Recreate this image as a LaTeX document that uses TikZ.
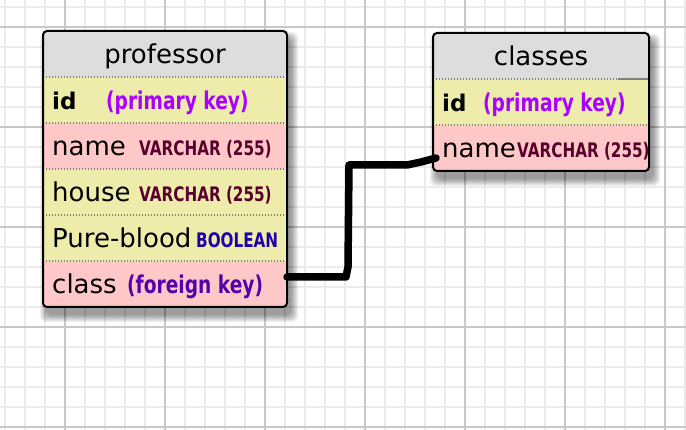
\documentclass[tikz,border=0pt]{standalone}
\usepackage{fontspec}
\setmainfont{DejaVu Sans}
\newfontfamily\typefont[FakeStretch=0.76]{DejaVu Sans Bold}
\usetikzlibrary{positioning,calc}
\definecolor{headgray}{RGB}{221,221,221}
\definecolor{rowyellow}{RGB}{238,236,170}
\definecolor{rowpink}{RGB}{255,200,200}
\definecolor{pkcolor}{RGB}{170,0,255}
\definecolor{fkcolor}{RGB}{85,0,170}
\definecolor{varcharcolor}{RGB}{90,0,45}
\definecolor{boolcolor}{RGB}{30,0,170}
\definecolor{minorgrid}{RGB}{235,235,235}
\definecolor{majorgrid}{RGB}{200,200,200}
\tikzstyle{cell}=[inner sep=0pt, outer sep=0pt, minimum height=46pt]
\tikzstyle{profcell}=[cell, minimum width=244pt]
\tikzstyle{clscell}=[cell, minimum width=216pt]
\tikzstyle{fieldname}=[anchor=base west, inner sep=0pt, font=\fontsize{26}{26}\selectfont]
\tikzstyle{keyname}=[anchor=base west, inner sep=0pt, font=\typefont\fontsize{24.5}{24.5}\selectfont]
\tikzstyle{typename}=[anchor=base west, inner sep=0pt, font=\typefont\fontsize{20}{20}\selectfont]
\tikzstyle{rowsep}=[draw=gray, line width=1.3pt, dash pattern=on 1.3pt off 1.7pt]
\tikzstyle{tableframe}=[draw=black, line width=2pt, rounded corners=4pt]
\tikzstyle{fk}=[line width=7.5pt, line join=round, line cap=round]
\newcommand{\tableshadow}[2]{
  \foreach \d in {0,1,...,7} {
    \fill[black, opacity=0.06, rounded corners=6pt] ($(#1)+(4-\d,8-\d)$) rectangle ($(#2)+(4+\d,8+\d)$);
  }
}

\begin{document}
\begin{tikzpicture}[x=1pt,y=-1pt]
\useasboundingbox (0,0) rectangle (686,430);
% grid
\foreach \x in {5,25,...,685} \draw[minorgrid, line width=1.5pt] (\x,0) -- (\x,430);
\foreach \y in {7,27,...,427} \draw[minorgrid, line width=1.5pt] (0,\y) -- (686,\y);
\foreach \x in {65,165,...,665} \draw[majorgrid, line width=2pt] (\x,0) -- (\x,430);
\foreach \y in {27,127,...,427} \draw[majorgrid, line width=2pt] (0,\y) -- (686,\y);

% professor
\coordinate (prof-nw) at (43,31);
\coordinate (prof-se) at (287,307);
\tableshadow{prof-nw}{prof-se}
\begin{scope}
  \clip[rounded corners=4pt] (prof-nw) rectangle (prof-se);
  \node[profcell, fill=headgray, anchor=north west] (prof-head) at (prof-nw) {};
  \node[profcell, fill=rowyellow, below=0pt of prof-head] (prof-id) {};
  \node[profcell, fill=rowpink, below=0pt of prof-id] (prof-name) {};
  \node[profcell, fill=rowyellow, below=0pt of prof-name] (prof-house) {};
  \node[profcell, fill=rowyellow, below=0pt of prof-house] (prof-blood) {};
  \node[profcell, fill=rowpink, below=0pt of prof-blood] (prof-class) {};
  \foreach \r in {id,name,house,blood,class}
    \draw[rowsep] (prof-\r.north west) -- (prof-\r.north east);
  \node[fieldname, anchor=base] (prof-title) at ([yshift=13pt]prof-head.south) {professor};
  \node[fieldname, font=\bfseries\fontsize{23}{23}\selectfont] (prof-id-f) at ([xshift=9pt,yshift=13pt]prof-id.south west) {id};
  \node[keyname, text=pkcolor] (prof-id-t) at ([xshift=63pt,yshift=13pt]prof-id.south west) {(primary key)};
  \node[fieldname] (prof-name-f) at ([xshift=9pt,yshift=13pt]prof-name.south west) {name};
  \node[typename, text=varcharcolor] (prof-name-t) at ([xshift=96pt,yshift=13pt]prof-name.south west) {VARCHAR (255)};
  \node[fieldname] (prof-house-f) at ([xshift=9pt,yshift=13pt]prof-house.south west) {house};
  \node[typename, text=varcharcolor] (prof-house-t) at ([xshift=96pt,yshift=13pt]prof-house.south west) {VARCHAR (255)};
  \node[fieldname] (prof-blood-f) at ([xshift=9pt,yshift=13pt]prof-blood.south west) {Pure-blood};
  \node[typename, text=boolcolor] (prof-blood-t) at ([xshift=153pt,yshift=13pt]prof-blood.south west) {BOOLEAN};
  \node[fieldname] (prof-class-f) at ([xshift=9pt,yshift=13pt]prof-class.south west) {class};
  \node[keyname, text=fkcolor] (prof-class-t) at ([xshift=84pt,yshift=13pt]prof-class.south west) {(foreign key)};
\end{scope}
\draw[tableframe] (prof-nw) rectangle (prof-se);

% classes
\coordinate (cls-nw) at (433,33);
\coordinate (cls-se) at (649,171);
\tableshadow{cls-nw}{cls-se}
\begin{scope}
  \clip[rounded corners=4pt] (cls-nw) rectangle (cls-se);
  \node[clscell, fill=headgray, anchor=north west] (cls-head) at (cls-nw) {};
  \node[clscell, fill=rowyellow, below=0pt of cls-head] (cls-id) {};
  \node[clscell, fill=rowpink, below=0pt of cls-id] (cls-name) {};
  \foreach \r in {id,name}
    \draw[rowsep] (cls-\r.north west) -- (cls-\r.north east);
  \draw[gray, line width=1.5pt] ([xshift=-31pt]cls-id.north east) -- (cls-id.north east);
  \node[fieldname, anchor=base] (cls-title) at ([yshift=13pt]cls-head.south) {classes};
  \node[fieldname, font=\bfseries\fontsize{23}{23}\selectfont] (cls-id-f) at ([xshift=9pt,yshift=13pt]cls-id.south west) {id};
  \node[keyname, text=pkcolor] (cls-id-t) at ([xshift=50pt,yshift=13pt]cls-id.south west) {(primary key)};
  \node[fieldname] (cls-name-f) at ([xshift=9pt,yshift=13pt]cls-name.south west) {name};
  \node[typename, text=varcharcolor] (cls-name-t) at ([xshift=84pt,yshift=13pt]cls-name.south west) {VARCHAR (255)};
\end{scope}
\draw[tableframe] (cls-nw) rectangle (cls-se);

% foreign key link
\draw[fk] ([yshift=7pt]prof-class.east) -- ++(59,0) -- ++(2,-10) -- ++(1,-102) -- ++(58,0) -- ++(14,-3) -- ([xshift=3pt,yshift=-10pt]cls-name.west);
\end{tikzpicture}
\end{document}
